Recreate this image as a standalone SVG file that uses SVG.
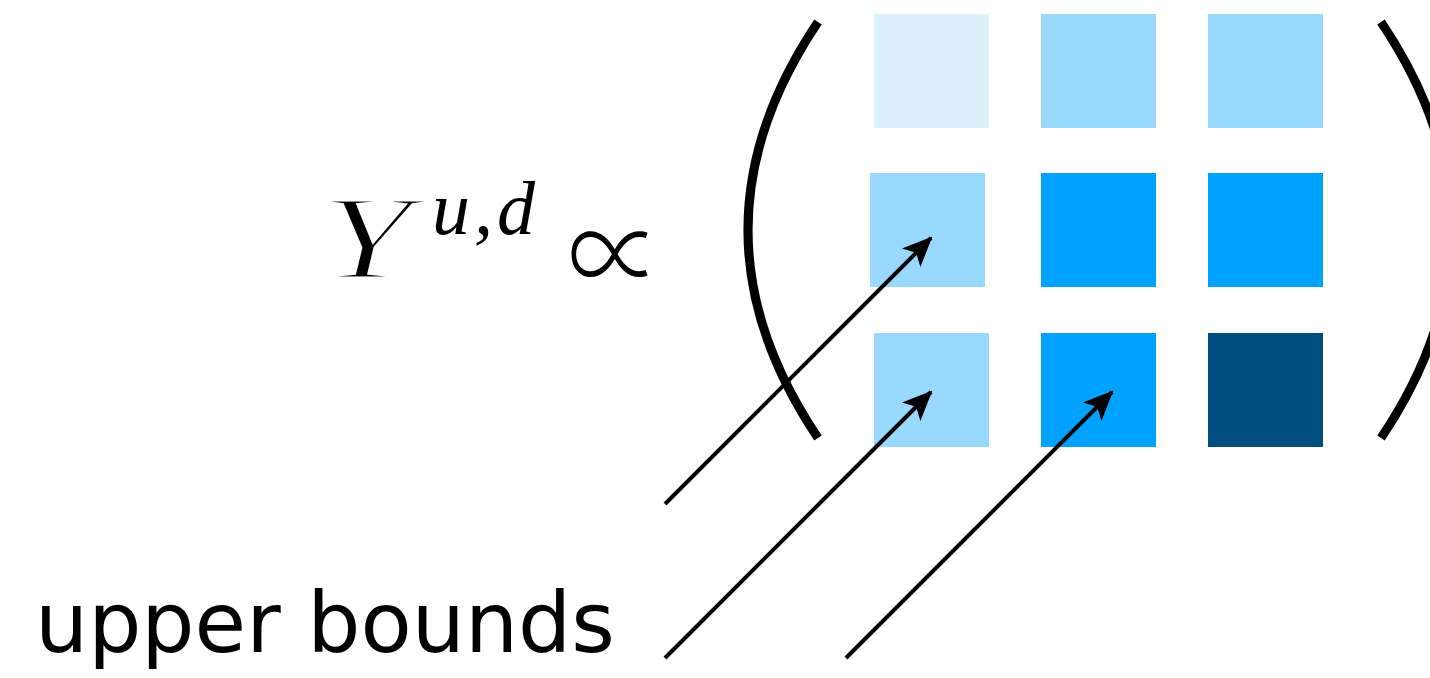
<svg xmlns="http://www.w3.org/2000/svg" width="1430" height="678" viewBox="0 0 1430 678">
<defs>
<style>
.c1{fill:#DDF1FD}.c2{fill:#99D8FF}.c3{fill:#00A2FF}.c4{fill:#004D80}
.paren{fill:none;stroke:#000;stroke-width:9}
.arrow{stroke:#000;stroke-width:4;fill:none;marker-end:url(#ah)}
.math{font-family:"Liberation Serif",serif;font-style:italic;fill:#000}
.label{font-family:"DejaVu Sans","Liberation Sans",sans-serif;fill:#000}
</style>
<marker id="ah" viewBox="0 0 30 26" refX="28" refY="13" markerWidth="30" markerHeight="26" markerUnits="userSpaceOnUse" orient="auto">
<path d="M0,0 L30,13 L0,26 L7,13 Z" fill="#000"/>
</marker>
</defs>
<rect width="1430" height="678" fill="#fff"/>
<g id="formula">
<text class="math" transform="translate(321,278) scale(1.38,1)" x="0" y="0" font-size="118" stroke="#fff" stroke-width="3">Y</text>
<text class="math" x="432" y="234" font-size="76" letter-spacing="4">u,d</text>
<text transform="translate(568,298) scale(1.04,1.3)" x="0" y="0" font-family="'Noto Sans CJK JP',sans-serif" font-weight="300" font-size="90">∝</text>
</g>
<g id="matrix">
<path class="paren" d="M818,22 Q678,230 818,438"/>
<path class="paren" d="M1381,22 Q1521,230 1381,438"/>
<rect id="m11" class="c1" x="874" y="14" width="115" height="114"/>
<rect id="m12" class="c2" x="1041" y="14" width="115" height="114"/>
<rect id="m13" class="c2" x="1208" y="14" width="115" height="114"/>
<rect id="m21" class="c2" x="870" y="173" width="115" height="114"/>
<rect id="m22" class="c3" x="1041" y="173" width="115" height="114"/>
<rect id="m23" class="c3" x="1208" y="173" width="115" height="114"/>
<rect id="m31" class="c2" x="874" y="333" width="115" height="114"/>
<rect id="m32" class="c3" x="1041" y="333" width="115" height="114"/>
<rect id="m33" class="c4" x="1208" y="333" width="115" height="114"/>
</g>
<g id="label">
<text class="label" x="35" y="652" font-size="84" textLength="580" lengthAdjust="spacingAndGlyphs">upper bounds</text>
</g>
<g id="connectors">
<line class="arrow" x1="665" y1="504" x2="931" y2="238"/>
<line class="arrow" x1="665" y1="658" x2="931" y2="392"/>
<line class="arrow" x1="846" y1="658" x2="1112" y2="392"/>
</g>
</svg>
